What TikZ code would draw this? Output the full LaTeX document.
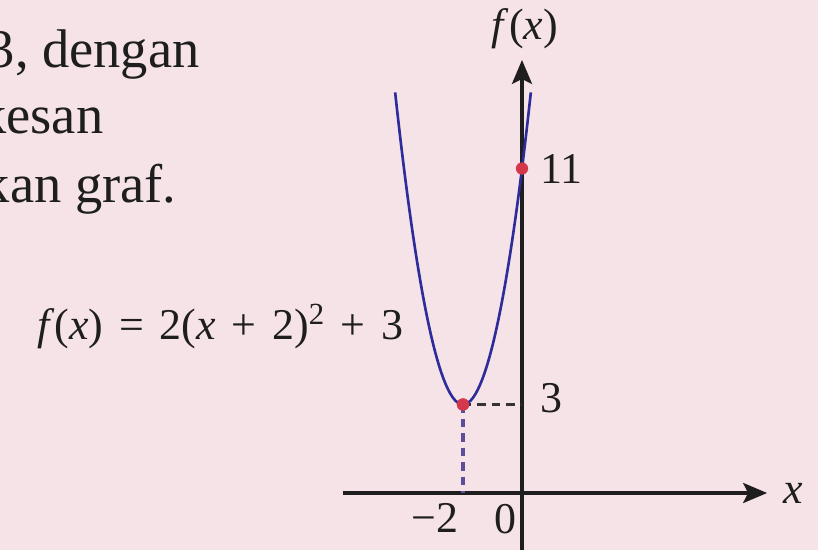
\documentclass[tikz,border=0pt]{standalone}
\usepackage{fontspec}
\setmainfont{Liberation Serif}
\usetikzlibrary{arrows.meta}
\definecolor{GraphPaper}{HTML}{F6E3E7}
\definecolor{GraphInk}{HTML}{1E1E1E}
\definecolor{GraphCurve}{HTML}{2E2C9A}
\definecolor{GraphDot}{HTML}{D3394A}
\definecolor{GraphGuide}{HTML}{5E4E98}
\tikzset{
    graph/diagram/.style={
        text=GraphInk,
        line cap=butt,
        line join=round,
        every node/.style={inner sep=2pt, outer sep=0pt}
    },
    graph/axis/.style={
        draw=GraphInk, line width=1.9pt,
        -{Stealth[length=4.8mm, width=4mm, inset=1mm]}
    },
    graph/curve/.style={draw=GraphCurve, line width=1.5pt},
    graph/hguide/.style={
        draw=GraphInk!90, line width=1.3pt,
        dash pattern=on 4.8pt off 3.4pt
    },
    graph/vguide/.style={
        draw=GraphGuide, line width=1.8pt,
        dash pattern=on 4.8pt off 3.4pt
    },
    graph/point/.style={circle, fill=GraphDot, draw=none,
        minimum size=7pt, inner sep=0pt},
    graph/label/.style={font=\fontsize{25}{29}\selectfont},
    graph/text/.style={font=\fontsize{31}{36}\selectfont, anchor=base east}
}
\newcommand{\opgap}{\hspace{0.36em}}

\begin{document}
\begin{tikzpicture}[graph/diagram, x=0.59cm, y=0.59cm]
    \fill[GraphPaper] (-17.695,-1.932) rectangle (10.034,16.712);
    \useasboundingbox (-17.695,-1.932) rectangle (10.034,16.712);
    % text cut off at the left edge
    \node[graph/text] (line1) at (-10.81,14.44) {3, dengan};
    \node[graph/text] (line2) at (-14.07,12.20) {kesan};
    \node[graph/text] (line3) at (-11.59,9.86) {kan graf.};
    % axes
    \coordinate (O) at (0,0);
    \coordinate (xstart) at (-6.07,0);
    \coordinate (xend) at (8.31,0);
    \coordinate (ystart) at (0,-1.95);
    \coordinate (yend) at (0,14.68);
    \draw[graph/axis] (xstart) -- (xend);
    \draw[graph/axis] (ystart) -- (yend);
    \node[graph/label, anchor=west] (xlab) at (8.75,0) {\textit{x}};
    \node[graph/label, anchor=south] (ylab) at (0.1,14.95) {\textit{f}(\textit{x})};
    % guides to the vertex
    \node[graph/point] (vertex) at (-2,3) {};
    \coordinate (vfoot) at (-2,0);
    \coordinate (vleft) at (0,3);
    \draw[graph/hguide] (vertex.center) -- (vleft);
    \draw[graph/vguide] (vertex.center) -- (vfoot);
    % the parabola
    \draw[graph/curve] plot[domain=-4.3:0.3, samples=80, smooth]
        (\x, {2*(\x+2)*(\x+2)+3});
    \node[graph/point] (yint) at (0,11) {};
    \node[graph/point] at (vertex) {};
    % labels
    \node[graph/label, anchor=west] (l11) at (0.5,11) {11};
    \node[graph/label, anchor=west] (l3) at (0.5,3.2) {3};
    \node[graph/label, anchor=north east] (lm2) at (-2.05,-0.25) {−2};
    \node[graph/label, anchor=north east] (l0) at (-0.08,-0.25) {0};
    \node[graph/label, anchor=base east] (eq) at (-3.9,5.19)
        {\textit{f}(\textit{x})\opgap=\opgap2(\textit{x}\opgap+\opgap2)\textsuperscript{2}\opgap+\opgap3};
\end{tikzpicture}
\end{document}
